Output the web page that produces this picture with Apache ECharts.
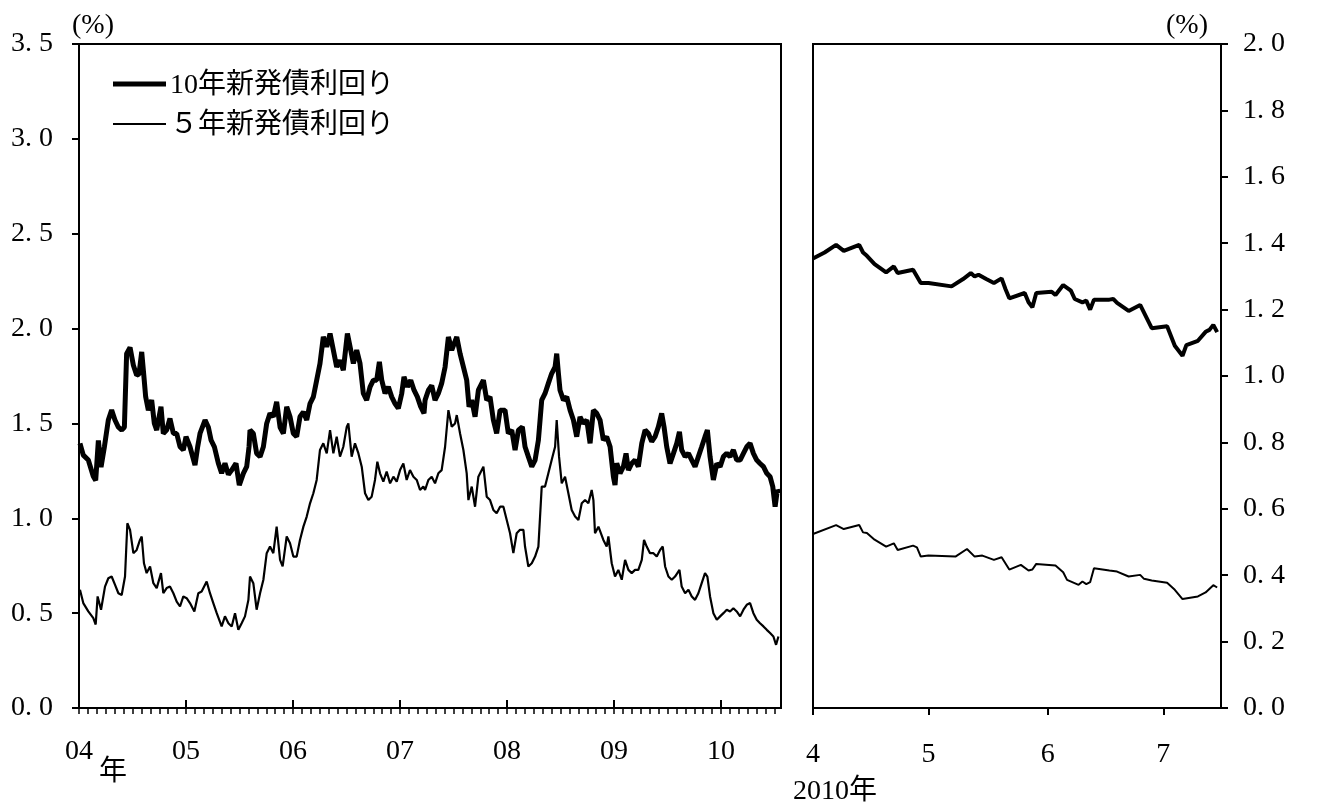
<!DOCTYPE html>
<html>
<head>
<meta charset="utf-8">
<script src="https://cdn.jsdelivr.net/npm/echarts@6/dist/echarts.min.js"></script>
<style>
  html, body { margin: 0; padding: 0; background: #fff; }
  #box { width: 1331px; height: 809px; }
</style>
</head>
<body>
<div id="box"></div>
<script>
// 左パネル：2004年〜2010年 (decimal year)
const t10 = [2004.009,2004.040,2004.087,2004.134,2004.156,2004.181,2004.206,2004.237,2004.274,2004.305,2004.336,2004.368,2004.399,2004.424,2004.445,2004.477,2004.508,2004.539,2004.561,2004.586,2004.607,2004.623,2004.648,2004.679,2004.704,2004.726,2004.766,2004.788,2004.819,2004.850,2004.882,2004.913,2004.944,2004.975,2005.000,2005.037,2005.084,2005.109,2005.131,2005.178,2005.209,2005.234,2005.265,2005.302,2005.333,2005.364,2005.396,2005.427,2005.467,2005.498,2005.536,2005.567,2005.589,
  2005.598,2005.629,2005.660,2005.692,2005.723,2005.754,2005.785,2005.816,2005.847,2005.879,2005.910,2005.941,2005.972,2006.003,2006.034,2006.065,2006.097,2006.128,2006.159,2006.190,2006.221,2006.252,2006.283,2006.315,2006.346,2006.377,2006.408,2006.439,2006.470,2006.508,2006.533,2006.564,2006.595,2006.626,2006.657,2006.688,2006.720,2006.751,2006.782,2006.807,2006.829,2006.860,2006.891,2006.922,2006.953,2006.984,2007.016,2007.037,2007.069,2007.100,2007.131,2007.162,2007.193,2007.224,
  2007.234,2007.265,2007.296,2007.327,2007.358,2007.389,2007.421,2007.452,2007.483,2007.530,2007.561,2007.592,2007.623,2007.645,2007.670,2007.701,2007.732,2007.779,2007.810,2007.841,2007.872,2007.903,2007.935,2007.981,2008.012,2008.044,2008.075,2008.106,2008.143,2008.168,2008.199,2008.231,2008.262,2008.293,2008.324,2008.355,2008.386,2008.417,2008.449,2008.464,2008.480,2008.495,2008.527,2008.558,2008.589,2008.620,2008.651,2008.682,2008.713,2008.745,2008.776,2008.807,2008.838,
  2008.869,2008.900,2008.931,2008.963,2008.994,2009.009,2009.025,2009.056,2009.087,2009.112,2009.134,2009.165,2009.196,2009.227,2009.259,2009.290,2009.321,2009.352,2009.383,2009.414,2009.445,2009.467,2009.492,2009.523,2009.555,2009.586,2009.611,2009.632,2009.664,2009.695,2009.726,2009.757,2009.788,2009.819,2009.850,2009.872,2009.897,2009.928,2009.960,2009.991,2010.022,2010.053,2010.084,2010.115,2010.146,2010.178,2010.209,2010.240,2010.271,2010.302,2010.333,2010.364,2010.396,2010.427,2010.458,2010.483,2010.505,2010.526,2010.545];
const y10 = [1.395,1.333,1.307,1.22,1.20,1.41,1.27,1.375,1.518,1.57,1.518,1.48,1.465,1.48,1.868,1.90,1.807,1.754,1.76,1.877,1.745,1.64,1.57,1.623,1.50,1.465,1.588,1.447,1.465,1.526,1.447,1.447,1.377,1.36,1.43,1.377,1.28,1.377,1.447,1.518,1.48,1.412,1.377,1.29,1.237,1.29,1.23,1.254,1.29,1.175,1.237,1.272,1.377,
  1.465,1.447,1.342,1.325,1.377,1.50,1.553,1.535,1.614,1.48,1.447,1.588,1.535,1.447,1.43,1.535,1.56,1.518,1.605,1.64,1.728,1.816,1.956,1.904,1.974,1.886,1.798,1.833,1.781,1.974,1.904,1.816,1.886,1.816,1.658,1.623,1.693,1.728,1.728,1.825,1.728,1.658,1.693,1.64,1.605,1.579,1.658,1.746,1.693,1.728,1.675,1.64,1.588,1.553,
  1.623,1.675,1.70,1.623,1.658,1.711,1.798,1.956,1.886,1.956,1.868,1.798,1.728,1.588,1.623,1.535,1.675,1.728,1.623,1.64,1.518,1.447,1.57,1.57,1.447,1.465,1.36,1.465,1.482,1.377,1.325,1.272,1.307,1.412,1.623,1.658,1.711,1.763,1.798,1.868,1.763,1.675,1.623,1.64,1.57,1.518,1.43,1.535,1.50,1.518,1.395,1.57,1.553,
  1.518,1.412,1.43,1.377,1.219,1.175,1.29,1.237,1.272,1.342,1.254,1.289,1.307,1.272,1.395,1.465,1.447,1.404,1.43,1.482,1.553,1.482,1.377,1.289,1.342,1.395,1.456,1.36,1.325,1.342,1.307,1.272,1.325,1.377,1.43,1.465,1.325,1.202,1.289,1.272,1.325,1.342,1.325,1.36,1.307,1.307,1.342,1.377,1.395,1.342,1.307,1.289,1.272,1.237,1.219,1.167,1.061,1.149,1.132];

const t5 = [2004.009,2004.040,2004.087,2004.134,2004.156,2004.174,2004.206,2004.243,2004.274,2004.305,2004.336,2004.368,2004.399,2004.430,2004.452,2004.477,2004.508,2004.539,2004.570,2004.586,2004.607,2004.632,2004.664,2004.695,2004.726,2004.766,2004.788,2004.819,2004.850,2004.882,2004.913,2004.944,2004.975,2005.006,2005.037,2005.078,2005.115,2005.146,2005.193,2005.224,2005.255,2005.287,2005.333,2005.364,2005.396,2005.427,2005.458,2005.489,2005.520,2005.551,2005.583,
  2005.598,2005.629,2005.660,2005.692,2005.723,2005.754,2005.785,2005.816,2005.847,2005.879,2005.903,2005.941,2005.972,2006.003,2006.034,2006.065,2006.097,2006.128,2006.159,2006.190,2006.221,2006.252,2006.283,2006.315,2006.346,2006.377,2006.408,2006.439,2006.470,2006.502,2006.517,2006.548,2006.579,2006.611,2006.642,2006.673,2006.704,2006.735,2006.766,2006.788,2006.813,2006.844,2006.875,2006.907,2006.938,2006.969,2007.000,2007.031,2007.062,2007.093,2007.125,2007.156,2007.187,2007.218,
  2007.234,2007.265,2007.296,2007.327,2007.358,2007.389,2007.421,2007.452,2007.483,2007.514,2007.530,2007.561,2007.592,2007.623,2007.639,2007.670,2007.701,2007.732,2007.779,2007.810,2007.841,2007.872,2007.903,2007.935,2007.966,2007.997,2008.028,2008.059,2008.090,2008.121,2008.153,2008.168,2008.199,2008.231,2008.262,2008.293,2008.324,2008.355,2008.386,2008.417,2008.449,2008.464,2008.486,2008.511,2008.542,2008.573,2008.604,2008.636,2008.667,2008.698,2008.729,2008.760,2008.791,2008.807,2008.822,2008.854,
  2008.869,2008.900,2008.931,2008.947,2008.978,2009.009,2009.040,2009.072,2009.103,2009.134,2009.165,2009.196,2009.227,2009.259,2009.280,2009.305,2009.336,2009.368,2009.399,2009.430,2009.455,2009.477,2009.508,2009.539,2009.570,2009.611,2009.632,2009.664,2009.695,2009.726,2009.757,2009.788,2009.819,2009.850,2009.872,2009.897,2009.928,2009.960,2009.991,2010.022,2010.053,2010.084,2010.115,2010.146,2010.178,2010.209,2010.240,2010.271,2010.302,2010.333,2010.364,2010.396,2010.427,2010.458,2010.489,2010.514,2010.536];
const y5 = [0.623,0.553,0.509,0.474,0.44,0.588,0.518,0.64,0.684,0.693,0.65,0.605,0.596,0.693,0.974,0.939,0.816,0.833,0.886,0.904,0.763,0.711,0.746,0.658,0.632,0.711,0.605,0.632,0.64,0.605,0.561,0.535,0.588,0.579,0.553,0.509,0.605,0.614,0.667,0.605,0.553,0.5,0.43,0.483,0.447,0.43,0.5,0.412,0.447,0.483,0.57,
  0.693,0.658,0.518,0.605,0.676,0.816,0.851,0.816,0.956,0.781,0.746,0.904,0.869,0.798,0.798,0.886,0.956,1.009,1.079,1.132,1.202,1.36,1.395,1.342,1.465,1.342,1.43,1.325,1.377,1.482,1.50,1.325,1.395,1.342,1.272,1.132,1.096,1.114,1.202,1.298,1.237,1.193,1.246,1.184,1.219,1.193,1.254,1.289,1.202,1.254,1.219,1.202,1.149,1.167,
  1.149,1.202,1.219,1.184,1.237,1.254,1.377,1.57,1.482,1.50,1.544,1.447,1.36,1.237,1.096,1.167,1.061,1.219,1.272,1.114,1.096,1.044,1.026,1.061,1.061,0.991,0.921,0.816,0.921,0.939,0.939,0.851,0.746,0.763,0.798,0.851,1.167,1.167,1.237,1.307,1.377,1.518,1.325,1.184,1.219,1.132,1.044,1.009,0.991,1.079,1.096,1.079,1.149,1.096,0.921,0.956,
  0.956,0.886,0.851,0.904,0.763,0.693,0.728,0.676,0.781,0.728,0.711,0.728,0.728,0.781,0.886,0.851,0.816,0.816,0.798,0.833,0.851,0.746,0.693,0.676,0.693,0.728,0.64,0.605,0.623,0.588,0.57,0.605,0.658,0.711,0.693,0.588,0.50,0.465,0.483,0.50,0.518,0.509,0.526,0.509,0.483,0.518,0.544,0.553,0.50,0.465,0.447,0.43,0.412,0.395,0.377,0.333,0.377];

// 右パネル：2010年4月〜
const rd10 = ['2010-04-01','2010-04-04','2010-04-07','2010-04-09','2010-04-13','2010-04-14','2010-04-15','2010-04-17','2010-04-20','2010-04-22','2010-04-23','2010-04-27','2010-04-29','2010-05-01','2010-05-07','2010-05-10','2010-05-12','2010-05-13','2010-05-14','2010-05-16','2010-05-18','2010-05-20','2010-05-21','2010-05-22','2010-05-26','2010-05-27','2010-05-28','2010-05-29','2010-06-02','2010-06-03','2010-06-05','2010-06-07','2010-06-08','2010-06-10','2010-06-11','2010-06-12','2010-06-13','2010-06-17','2010-06-18','2010-06-19','2010-06-22','2010-06-25','2010-06-28','2010-07-02','2010-07-04','2010-07-06','2010-07-07','2010-07-10','2010-07-12','2010-07-13','2010-07-14','2010-07-15'];
const r10 = [1.354,1.372,1.395,1.377,1.395,1.372,1.362,1.337,1.312,1.330,1.310,1.320,1.280,1.280,1.270,1.292,1.310,1.300,1.305,1.292,1.280,1.294,1.262,1.234,1.250,1.222,1.207,1.250,1.254,1.244,1.274,1.257,1.232,1.222,1.227,1.200,1.230,1.230,1.232,1.220,1.196,1.214,1.144,1.150,1.091,1.061,1.093,1.106,1.133,1.139,1.154,1.132];
const rd5 = ['2010-04-01','2010-04-07','2010-04-09','2010-04-13','2010-04-14','2010-04-15','2010-04-17','2010-04-20','2010-04-22','2010-04-23','2010-04-27','2010-04-28','2010-04-29','2010-05-01','2010-05-08','2010-05-11','2010-05-13','2010-05-15','2010-05-18','2010-05-20','2010-05-22','2010-05-25','2010-05-27','2010-05-28','2010-05-29','2010-06-03','2010-06-05','2010-06-06','2010-06-09','2010-06-10','2010-06-11','2010-06-12','2010-06-13','2010-06-17','2010-06-19','2010-06-22','2010-06-25','2010-06-26','2010-06-28','2010-07-02','2010-07-04','2010-07-06','2010-07-10','2010-07-12','2010-07-14','2010-07-15'];
const r5 = [0.524,0.551,0.539,0.551,0.529,0.527,0.507,0.486,0.496,0.476,0.489,0.484,0.456,0.459,0.456,0.479,0.456,0.459,0.446,0.454,0.417,0.431,0.414,0.417,0.434,0.429,0.409,0.386,0.371,0.381,0.373,0.379,0.421,0.414,0.411,0.396,0.401,0.389,0.384,0.377,0.356,0.328,0.336,0.348,0.370,0.363];

const yearTicks = [2004, 2005, 2006, 2007, 2008, 2009, 2010];
const monthTicks = ['2010-04-01', '2010-05-01', '2010-06-01', '2010-07-01'];
const names = ['10年新発債利回り', '５年新発債利回り'];

const SERIF = "'Liberation Serif', 'Noto Sans CJK JP', serif";

function day(s) {
  const p = s.split('-');
  return new Date(+p[0], +p[1] - 1, +p[2]).getTime();
}
function zip(a, b) { return a.map((v, i) => [v, b[i]]); }
function zipDate(a, b) { return a.map((v, i) => [day(v), b[i]]); }
function yLabel(v) { return v.toFixed(1).replace('.', '. '); }

// 月目盛 (左パネル下の小目盛)
const minorTicks = [];
for (let k = 0; 2004 + k / 12 <= 2010.56; k++) minorTicks.push(2004 + k / 12);

const chart = echarts.init(document.getElementById('box'));
const black = '#000';
const lbl = { color: black, fontFamily: SERIF, fontSize: 28 };

chart.setOption({
  animation: false,
  backgroundColor: '#fff',
  grid: [
    { left: 79, top: 44, width: 702, height: 664, containLabel: false, show: true, borderColor: black, borderWidth: 2 },
    { left: 813, top: 44, width: 408, height: 664, containLabel: false, show: true, borderColor: black, borderWidth: 2 }
  ],
  xAxis: [
    {
      gridIndex: 0, type: 'value', position: 'bottom', min: 2004, max: 2010.56,
      axisLine: { lineStyle: { color: black, width: 2 } },
      axisTick: { inside: true, length: 8, customValues: yearTicks, lineStyle: { color: black, width: 2 } },
      axisLabel: Object.assign({ customValues: yearTicks, margin: 30, formatter: v => String(Math.round(v)).slice(2) }, lbl),
      splitLine: { show: false }
    },
    {
      gridIndex: 0, type: 'value', position: 'bottom', min: 2004, max: 2010.56,
      axisLine: { show: false },
      axisTick: { length: 6, customValues: minorTicks, lineStyle: { color: black, width: 1.5 } },
      axisLabel: { show: false },
      splitLine: { show: false }
    },
    {
      gridIndex: 1, type: 'value', position: 'bottom', min: day('2010-04-01'), max: day('2010-07-16'),
      axisLine: { lineStyle: { color: black, width: 2 } },
      axisTick: { length: 7, customValues: monthTicks.map(day), lineStyle: { color: black, width: 2 } },
      axisLabel: Object.assign({ customValues: monthTicks.map(day), margin: 33, formatter: v => String(new Date(v).getMonth() + 1) }, lbl),
      splitLine: { show: false }
    }
  ],
  yAxis: [
    {
      gridIndex: 0, type: 'value', min: 0, max: 3.5, interval: 0.5,
      axisLine: { show: true, lineStyle: { color: black, width: 2 } },
      axisTick: { show: true, length: 7, lineStyle: { color: black, width: 2 } },
      axisLabel: Object.assign({ margin: 26, formatter: yLabel }, lbl),
      splitLine: { show: false }
    },
    {
      gridIndex: 1, type: 'value', position: 'right', min: 0, max: 2.0, interval: 0.2,
      axisLine: { show: true, lineStyle: { color: black, width: 2 } },
      axisTick: { show: true, length: 7, lineStyle: { color: black, width: 2 } },
      axisLabel: Object.assign({ margin: 22, formatter: yLabel }, lbl),
      splitLine: { show: false }
    }
  ],
  series: [
    { name: names[0], type: 'line', xAxisIndex: 0, yAxisIndex: 0, data: zip(t10, y10), showSymbol: false, lineStyle: { color: black, width: 5 } },
    { name: names[1], type: 'line', xAxisIndex: 0, yAxisIndex: 0, data: zip(t5, y5), showSymbol: false, lineStyle: { color: black, width: 2.2 } },
    { name: names[0], type: 'line', xAxisIndex: 2, yAxisIndex: 1, data: zipDate(rd10, r10), showSymbol: false, lineStyle: { color: black, width: 4 } },
    { name: names[1], type: 'line', xAxisIndex: 2, yAxisIndex: 1, data: zipDate(rd5, r5), showSymbol: false, lineStyle: { color: black, width: 2 } }
  ],
  graphic: [
    { type: 'text', x: 93, y: 26, style: { text: '(%)', fill: black, fontFamily: SERIF, fontSize: 28, align: 'center', verticalAlign: 'middle' } },
    { type: 'text', x: 1187, y: 26, style: { text: '(%)', fill: black, fontFamily: SERIF, fontSize: 28, align: 'center', verticalAlign: 'middle' } },
    { type: 'text', x: 113, y: 773, style: { text: '年', fill: black, fontFamily: SERIF, fontSize: 28, align: 'center', verticalAlign: 'middle' } },
    { type: 'text', x: 793, y: 792, style: { text: '2010年', fill: black, fontFamily: SERIF, fontSize: 28, align: 'left', verticalAlign: 'middle' } },
    { type: 'line', shape: { x1: 113, y1: 84, x2: 166, y2: 84 }, style: { stroke: black, lineWidth: 5 } },
    { type: 'text', x: 170, y: 86, style: { text: names[0], fill: black, fontFamily: SERIF, fontSize: 28, align: 'left', verticalAlign: 'middle' } },
    { type: 'line', shape: { x1: 113, y1: 124, x2: 166, y2: 124 }, style: { stroke: black, lineWidth: 2 } },
    { type: 'text', x: 170, y: 126, style: { text: names[1], fill: black, fontFamily: SERIF, fontSize: 28, align: 'left', verticalAlign: 'middle' } }
  ]
});
</script>
</body>
</html>
